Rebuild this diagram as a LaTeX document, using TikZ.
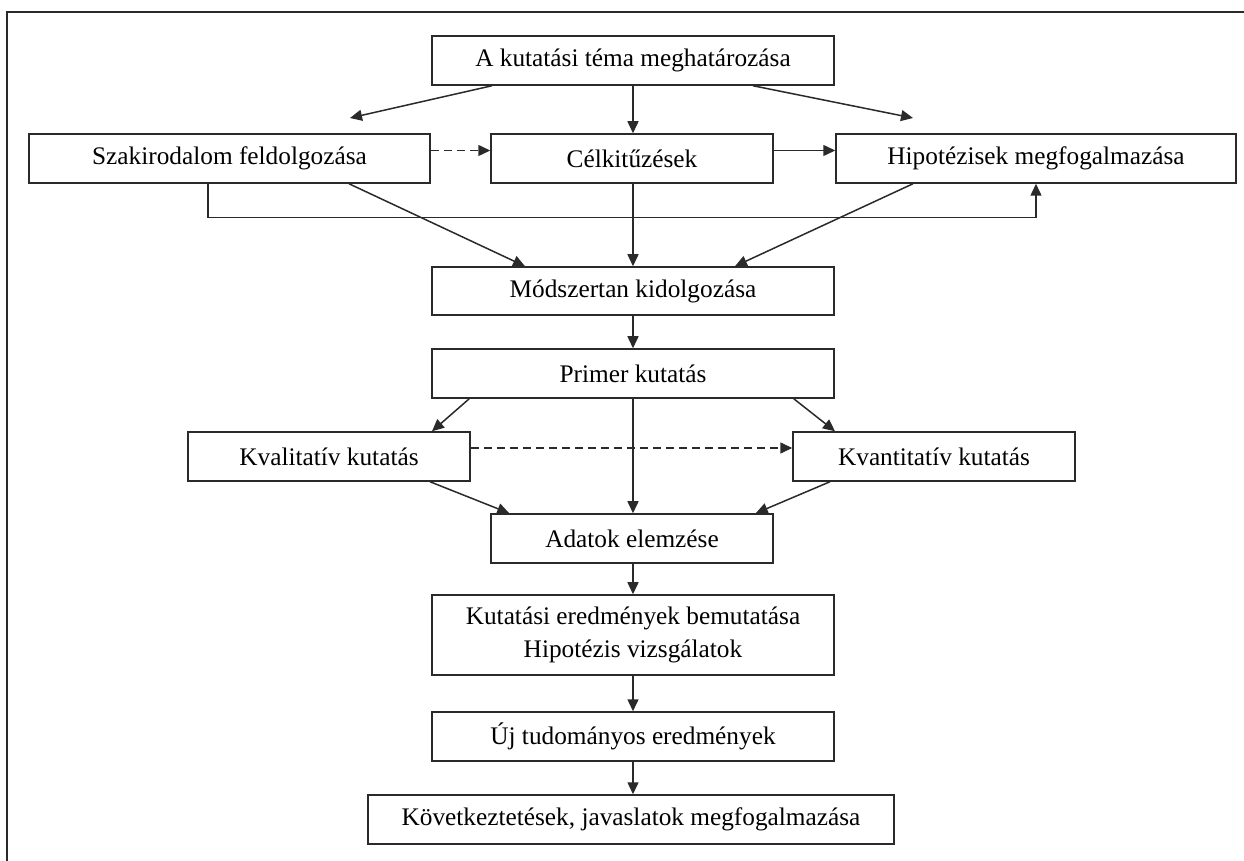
\documentclass[tikz,border=0pt]{standalone}
\usepackage{fontspec}
\setmainfont{Liberation Serif}
\usetikzlibrary{arrows.meta,calc}
\definecolor{linec}{HTML}{2A2A2A}
\begin{document}
\begin{tikzpicture}[x=0.5pt,y=-0.5pt,
  box/.style={draw=linec, line width=0.75pt, rectangle, inner sep=0pt, align=center,
    font=\fontsize{12.65}{16.5}\selectfont, text=black, minimum height=24.5pt},
  conn/.style={draw=linec, line width=0.75pt},
  arr/.style={conn, -{Triangle[length=6pt,width=5.5pt]}},
  dsh/.style={arr, dash pattern=on 4pt off 2.5pt}]
\useasboundingbox (0,0) rectangle (1244,861);
\draw[conn, line width=0.7pt] (7,861) -- (7,12) -- (1244,12);

% nodes
\node[box, minimum width=201pt] (top) at (633,60.5) {A kutatási téma meghatározása};
\node[box, minimum width=200.5pt] (szak) at (229.5,158.5) {Szakirodalom feldolgozása};
\node[box, minimum width=141pt] (cel) at (632,158.5) {Célkitűzések};
\node[box, minimum width=200pt] (hip) at (1036,158.5) {Hipotézisek megfogalmazása};
\node[box, minimum width=201pt, minimum height=24pt] (mod) at (633,291) {Módszertan kidolgozása};
\node[box, minimum width=201pt] (prim) at (633,373.5) {Primer kutatás};
\node[box, minimum width=141pt] (kval) at (329,456.5) {Kvalitatív kutatás};
\node[box, minimum width=141pt] (kvant) at (934,456.5) {Kvantitatív kutatás};
\node[box, minimum width=141pt] (adat) at (632,538.5) {Adatok elemzése};
\node[box, minimum width=201pt, minimum height=40pt] (kut) at (633,635) {Kutatási eredmények bemutatása\\Hipotézis vizsgálatok};
\node[box, minimum width=201pt] (uj) at (633,736.5) {Új tudományos eredmények};
\node[box, minimum width=263pt] (kov) at (631,819.5) {Következtetések, javaslatok megfogalmazása};

% free ends
\coordinate (tl) at (350,118);
\coordinate (tr) at (913,118);

% connectors
\draw[arr] ($(top.south)+(-141,0)$) -- (tl);
\draw[arr] (top.south) -- (top.south |- cel.north);
\draw[arr] ($(top.south)+(120,0)$) -- (tr);
\draw[dsh] ($(szak.east)+(0,-8)$) -- ($(cel.west)+(0,-8)$);
\draw[arr] ($(cel.east)+(0,-8)$) -- ($(hip.west)+(0,-8)$);
\draw[arr] ($(szak.south)+(-21.5,0)$) -- ++(0,34) -| (hip.south);
\draw[arr] ($(szak.south)+(119.5,0)$) -- ($(mod.north)+(-108,0)$);
\draw[arr] (cel.south -| top.south) -- (mod.north);
\draw[arr] ($(hip.south)+(-123,0)$) -- ($(mod.north)+(102,0)$);
\draw[arr] (mod.south) -- (prim.north);
\draw[arr] ($(prim.south west)+(38,0)$) -- ($(kval.north)+(103,0)$);
\draw[arr] ($(prim.south east)+(-41,0)$) -- ($(kvant.north)+(-99,0)$);
\draw[dsh] ($(kval.east)+(0,-8.5)$) -- ($(kvant.west)+(0,-8.5)$);
\draw[arr] (prim.south) -- (prim.south |- adat.north);
\draw[arr] ($(kval.south)+(101,0)$) -- ($(adat.north west)+(19,0)$);
\draw[arr] ($(kvant.south)+(-104,0)$) -- ($(adat.north east)+(-18,0)$);
\draw[arr] (adat.south -| kut.north) -- (kut.north);
\draw[arr] (kut.south) -- (uj.north);
\draw[arr] (uj.south) -- (uj.south |- kov.north);
\end{tikzpicture}
\end{document}
